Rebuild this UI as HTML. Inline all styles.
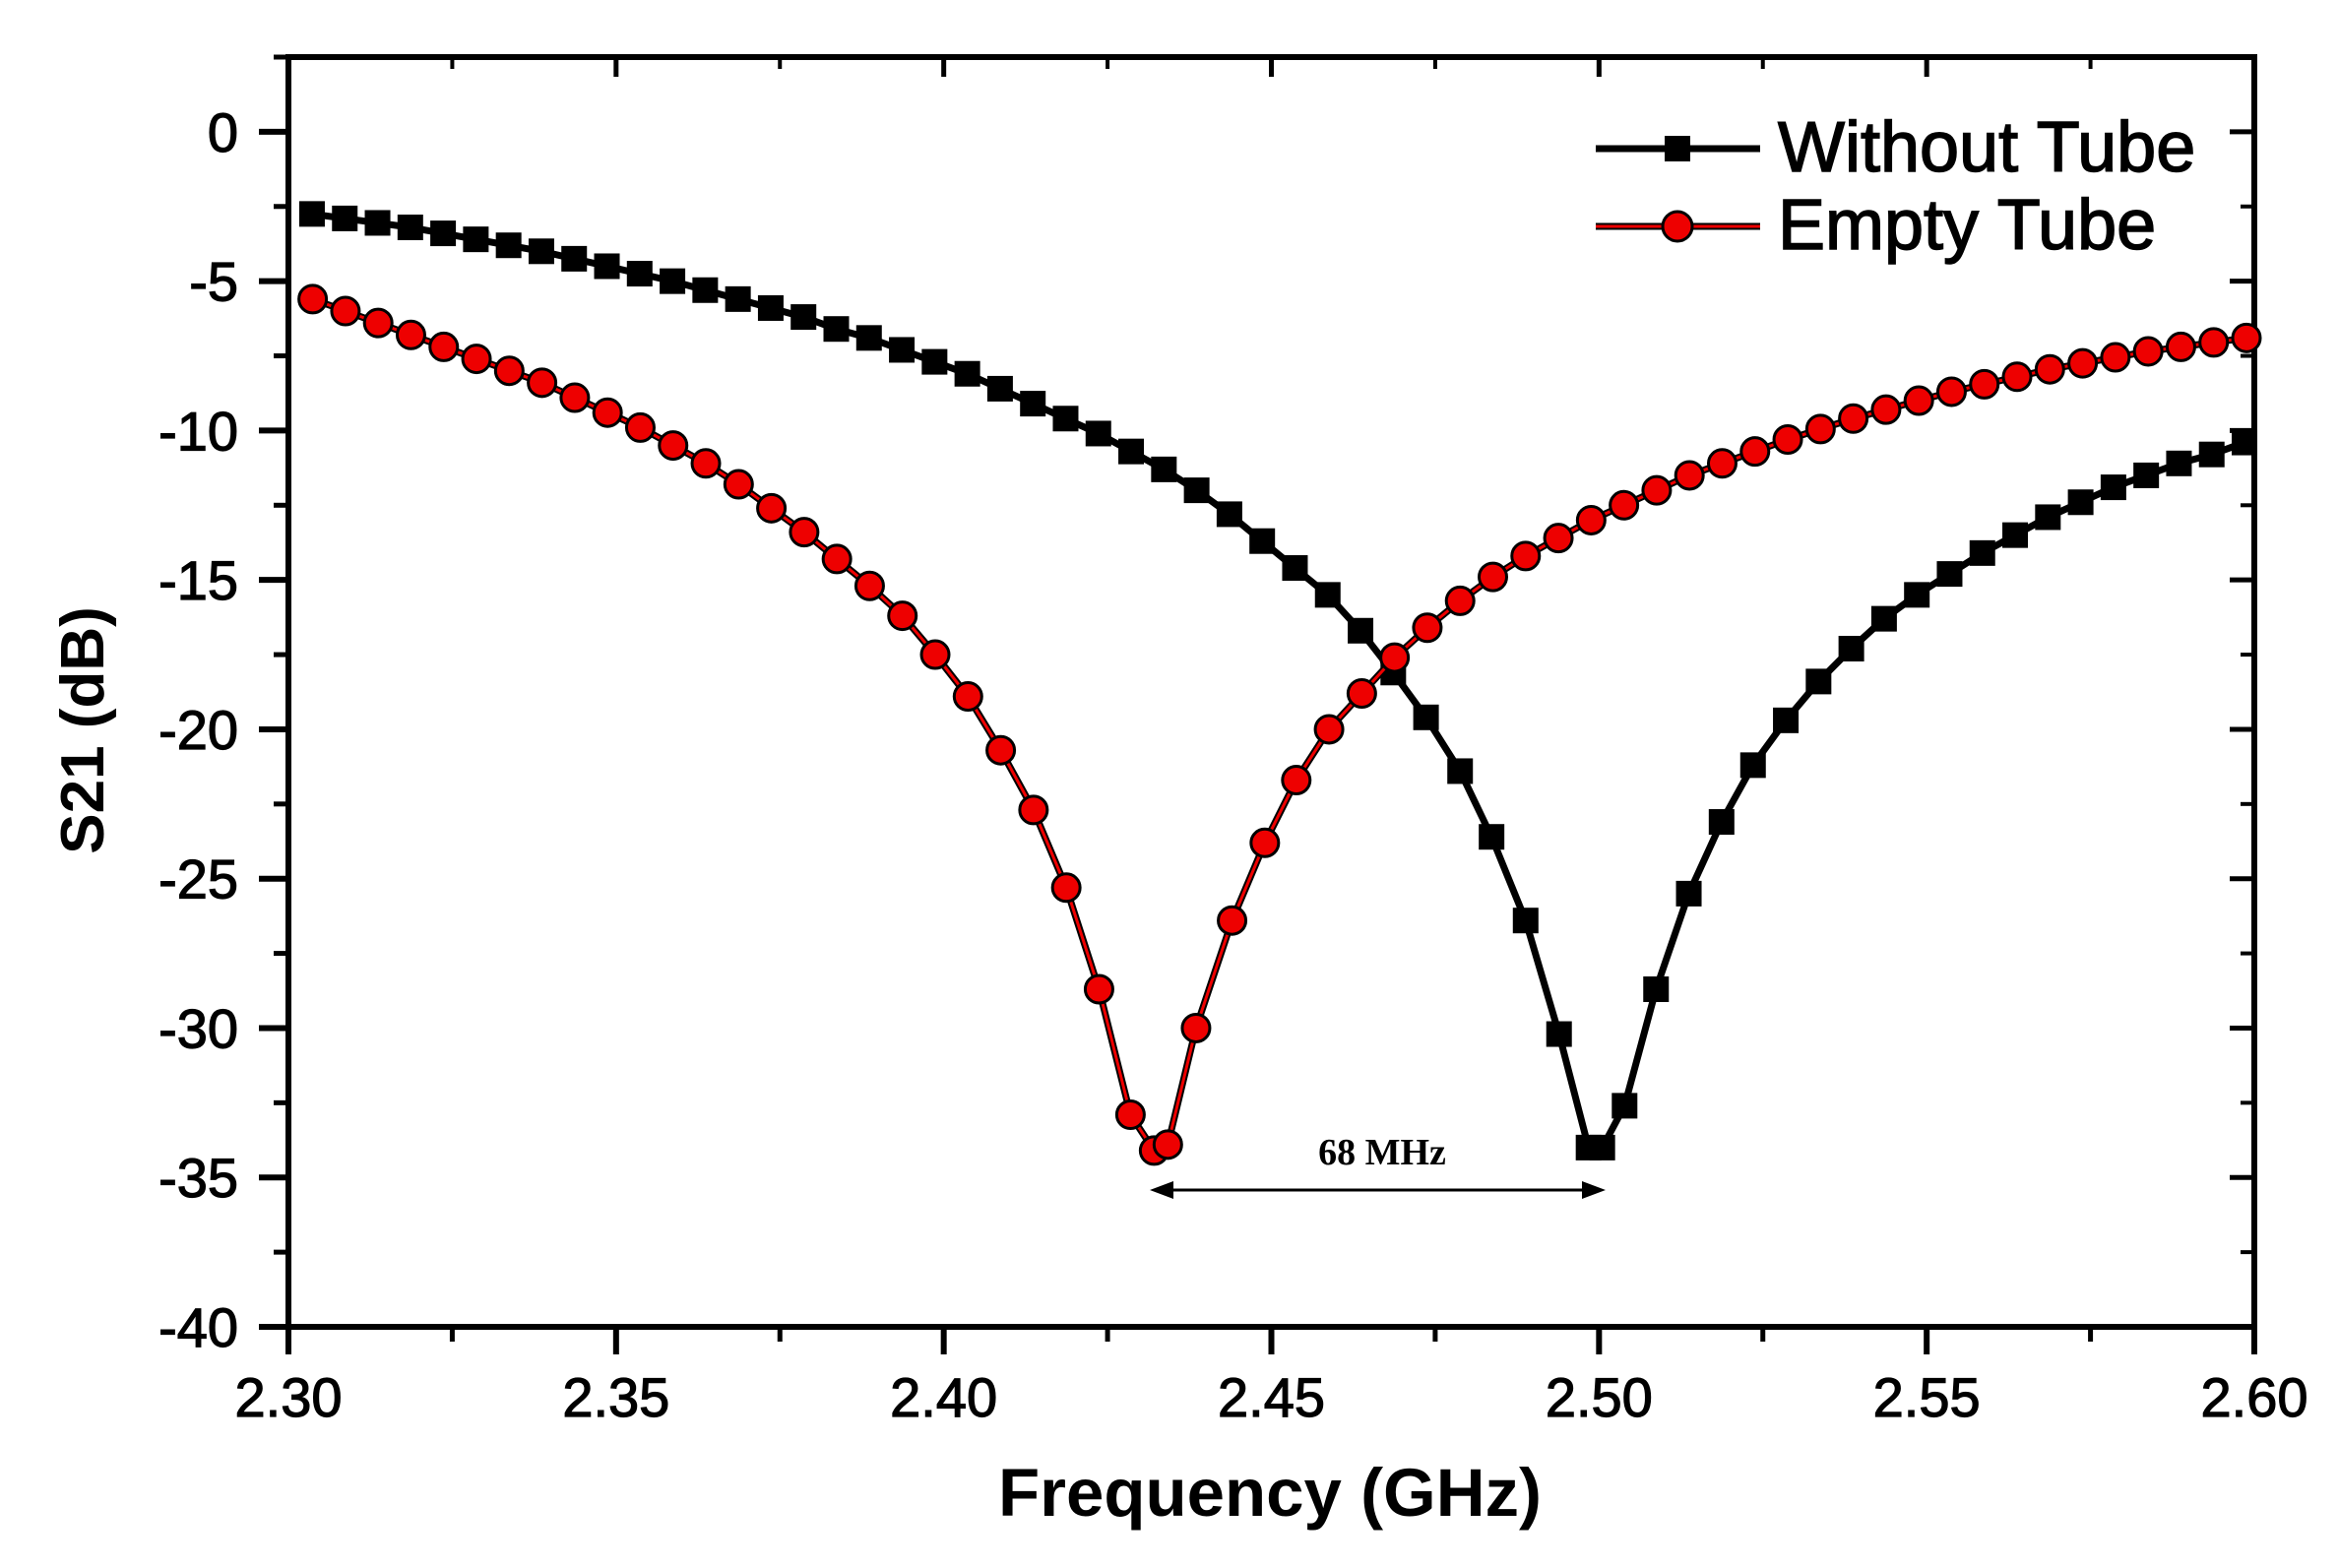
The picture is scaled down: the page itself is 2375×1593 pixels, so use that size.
<!DOCTYPE html>
<html><head><meta charset="utf-8"><style>
html,body{margin:0;padding:0;background:#fff;}
svg{display:block;font-family:"Liberation Sans",Arial,sans-serif;}
</style></head><body>
<svg id="chart" width="2375" height="1593" viewBox="0 0 2375 1593" xmlns="http://www.w3.org/2000/svg">
<g id="axes"></g>
<g id="series"></g>
<text x="1290" y="1540" font-size="69" font-weight="bold" text-anchor="middle">Frequency (GHz)</text>
<text transform="translate(105,742) rotate(-90)" font-size="62" font-weight="bold" text-anchor="middle">S21 (dB)</text>
<g>
  <g>
    <line x1="1621" y1="151" x2="1788" y2="151" stroke="#000" stroke-width="7"/>
    <rect x="1691" y="138" width="26" height="26" fill="#000"/>
    <text x="1806" y="174" font-size="72" stroke="#000" stroke-width="1.5">Without Tube</text>
  </g>
  <g>
    <line x1="1621" y1="230" x2="1788" y2="230" stroke="#000" stroke-width="7"/>
    <line x1="1621" y1="230" x2="1788" y2="230" stroke="#e00" stroke-width="3"/>
    <circle cx="1704" cy="230" r="15" fill="#e00" stroke="#000" stroke-width="3"/>
    <text x="1806" y="253" font-size="72" stroke="#000" stroke-width="1.5">Empty Tube</text>
  </g>
</g>
<g>
  <line x1="1172" y1="1209" x2="1627" y2="1209" stroke="#000" stroke-width="3"/>
  <polygon points="1168,1209 1192,1200 1192,1218" fill="#000"/>
  <polygon points="1631,1209 1607,1200 1607,1218" fill="#000"/>
  <text x="1404" y="1183" font-size="38" font-weight="bold" font-family="'Liberation Serif',serif" text-anchor="middle">68 MHz</text>
</g>
</svg>
<script>
const xTicks=[2.30,2.35,2.40,2.45,2.50,2.55,2.60];
const xTickLabels=["2.30","2.35","2.40","2.45","2.50","2.55","2.60"];
const yTicks=[0,-5,-10,-15,-20,-25,-30,-35,-40];
const yTickLabels=["0","-5","-10","-15","-20","-25","-30","-35","-40"];
const withoutX=[2.3036,2.3086,2.3136,2.3186,2.3236,2.3286,2.3336,2.3386,2.3436,2.3486,2.3536,2.3586,2.3636,2.3686,2.3736,2.3786,2.3836,2.3886,2.3936,2.3986,2.4036,2.4086,2.4136,2.4186,2.4236,2.4286,2.4336,2.4386,2.4436,2.4486,2.4536,2.4586,2.4636,2.4686,2.4736,2.4788,2.4836,2.4888,2.4939,2.4984,2.5005,2.5039,2.5087,2.5137,2.5187,2.5235,2.5285,2.5335,2.5385,2.5435,2.5485,2.5535,2.5585,2.5635,2.5685,2.5735,2.5785,2.5835,2.5885,2.5935,2.5985];
const withoutY=[-2.75,-2.9,-3.05,-3.2,-3.4,-3.6,-3.8,-4.0,-4.25,-4.5,-4.75,-5.0,-5.3,-5.6,-5.9,-6.2,-6.6,-6.9,-7.3,-7.7,-8.1,-8.6,-9.1,-9.6,-10.1,-10.7,-11.3,-12.0,-12.8,-13.7,-14.6,-15.5,-16.7,-18.1,-19.6,-21.4,-23.6,-26.4,-30.2,-34.0,-34.0,-32.6,-28.7,-25.5,-23.1,-21.2,-19.7,-18.4,-17.3,-16.3,-15.5,-14.8,-14.1,-13.5,-12.9,-12.4,-11.9,-11.5,-11.1,-10.8,-10.4];
const emptyX=[2.3037,2.3087,2.3137,2.3187,2.3237,2.3287,2.3337,2.3387,2.3437,2.3487,2.3537,2.3587,2.3637,2.3687,2.3737,2.3787,2.3837,2.3887,2.3937,2.3987,2.4037,2.4087,2.4137,2.4187,2.4237,2.4285,2.4321,2.4342,2.4385,2.4440,2.4490,2.4538,2.4588,2.4638,2.4688,2.4738,2.4788,2.4838,2.4888,2.4938,2.4988,2.5038,2.5088,2.5138,2.5188,2.5238,2.5288,2.5338,2.5388,2.5438,2.5488,2.5538,2.5588,2.5638,2.5688,2.5738,2.5788,2.5838,2.5888,2.5938,2.5988];
const emptyY=[-5.6,-6.0,-6.4,-6.8,-7.2,-7.6,-8.0,-8.4,-8.9,-9.4,-9.9,-10.5,-11.1,-11.8,-12.6,-13.4,-14.3,-15.2,-16.2,-17.5,-18.9,-20.7,-22.7,-25.3,-28.7,-32.9,-34.1,-33.9,-30.0,-26.4,-23.8,-21.7,-20.0,-18.8,-17.6,-16.6,-15.7,-14.9,-14.2,-13.6,-13.0,-12.5,-12.0,-11.5,-11.1,-10.7,-10.3,-9.95,-9.6,-9.3,-9.0,-8.7,-8.45,-8.2,-7.95,-7.75,-7.55,-7.35,-7.2,-7.05,-6.9];

const L=293,R=2290,T=58,B=1348;
const x0=2.30,x1=2.60,y0=-40,y1=2.5;
const sx=v=>L+(v-x0)/(x1-x0)*(R-L);
const sy=v=>B-(v-y0)/(y1-y0)*(B-T);
const NS="http://www.w3.org/2000/svg";
function mk(tag,attrs,parent){const e=document.createElementNS(NS,tag);for(const k in attrs)e.setAttribute(k,attrs[k]);parent.appendChild(e);return e;}
const ax=document.getElementById('axes');
const frame=mk('rect',{x:L,y:T,width:R-L,height:B-T,fill:'none',stroke:'#000','stroke-width':6},ax);


xTicks.forEach((v,i)=>{
  const x=sx(v);
  mk('line',{x1:x,y1:B,x2:x,y2:B+28,stroke:'#000','stroke-width':6},ax);
  mk('line',{x1:x,y1:T,x2:x,y2:T+20,stroke:'#000','stroke-width':5},ax);
  const t=mk('text',{x:x,y:1439,'font-size':56,'text-anchor':'middle',stroke:'#000','stroke-width':1.2},ax);
  t.textContent=xTickLabels[i];
  
  
  if(i<xTicks.length-1){const m=sx(v+0.025);
    mk('line',{x1:m,y1:B,x2:m,y2:B+15,stroke:'#000','stroke-width':5},ax);
    mk('line',{x1:m,y1:T,x2:m,y2:T+12,stroke:'#000','stroke-width':4},ax);}
});
yTicks.forEach((v,i)=>{
  const y=sy(v);
  mk('line',{x1:L-30,y1:y,x2:L,y2:y,stroke:'#000','stroke-width':6},ax);
  mk('line',{x1:R-25,y1:y,x2:R,y2:y,stroke:'#000','stroke-width':5},ax);
  const t=mk('text',{x:242,y:y+20,'font-size':56,'text-anchor':'end',stroke:'#000','stroke-width':1.2},ax);
  t.textContent=yTickLabels[i];
  
  
  const m=sy(v+2.5);
  mk('line',{x1:L-15,y1:m,x2:L,y2:m,stroke:'#000','stroke-width':5},ax);
  mk('line',{x1:R-14,y1:m,x2:R,y2:m,stroke:'#000','stroke-width':4},ax);
});
const sg=document.getElementById('series');
function pts(xs,ys){return xs.map((v,i)=>sx(v)+','+sy(ys[i])).join(' ');}
const lb=mk('polyline',{points:pts(withoutX,withoutY),fill:'none',stroke:'#000','stroke-width':7,'stroke-linejoin':'round'},sg);


withoutX.forEach((v,i)=>{
  const r=mk('rect',{x:sx(v)-13,y:sy(withoutY[i])-13,width:26,height:26,fill:'#000'},sg);
  
  
});
const lr=mk('polyline',{points:pts(emptyX,emptyY),fill:'none',stroke:'#000','stroke-width':7,'stroke-linejoin':'round'},sg);


const lr2=mk('polyline',{points:pts(emptyX,emptyY),fill:'none',stroke:'#e00','stroke-width':3,'stroke-linejoin':'round'},sg);


emptyX.forEach((v,i)=>{
  const c=mk('circle',{cx:sx(v),cy:sy(emptyY[i]),r:14,fill:'#e00',stroke:'#000','stroke-width':3},sg);
  
  
});
</script>
</body></html>
